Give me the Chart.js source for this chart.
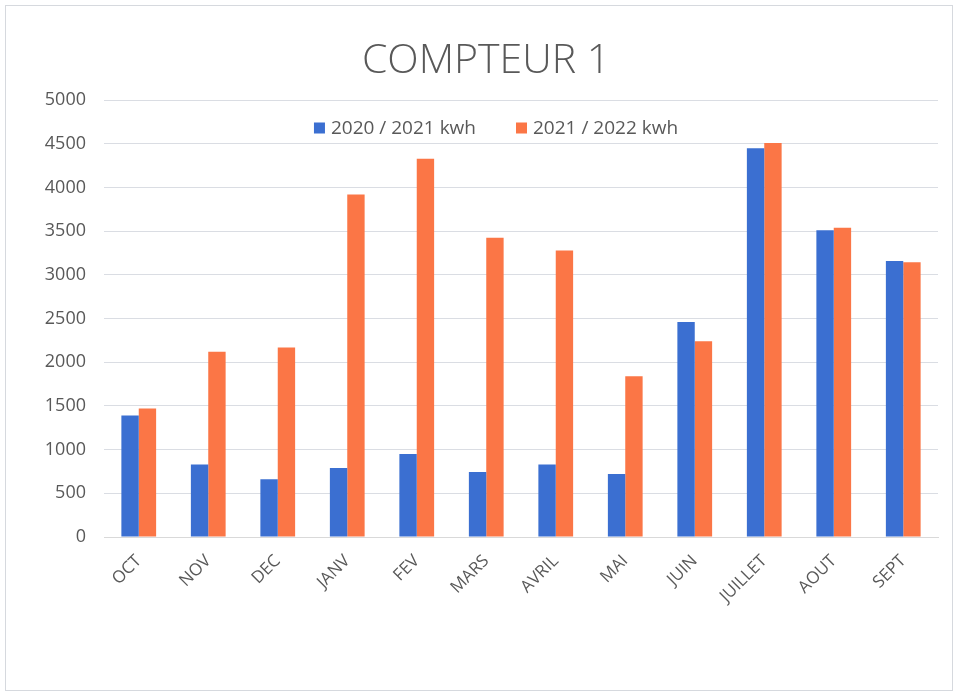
<!DOCTYPE html>
<html>
<head>
<meta charset="utf-8">
<title>COMPTEUR 1</title>
<script src="https://cdn.jsdelivr.net/npm/chart.js@4.4.0/dist/chart.umd.min.js"></script>
<style>
    html, body { margin: 0; padding: 0; background: #ffffff; }
    .chart-frame {
        position: absolute;
        left: 5px; top: 5px;
        width: 946px; height: 684px;
        border: 1px solid #d6d9de;
    }
    .chart-frame canvas { display: block; }
</style>
</head>
<body>
<div class="chart-frame">
    <canvas id="compteurChart" width="946" height="684"></canvas>
</div>
<script>
// Months (Oct -> Sept)
const months = ['OCT', 'NOV', 'DEC', 'JANV', 'FEV', 'MARS', 'AVRIL', 'MAI', 'JUIN', 'JUILLET', 'AOUT', 'SEPT'];

// Consumption in kWh
const season2020 = [1390, 830, 660, 790, 950, 745, 830, 720, 2460, 4450, 3510, 3160];
const season2021 = [1470, 2120, 2170, 3920, 4330, 3425, 3280, 1840, 2240, 4510, 3540, 3145];

const seriesLabels = ['2020 / 2021 kwh', '2021 / 2022 kwh'];
const seriesColors = ['#3b6fd1', '#fb7646'];
const yMax = 5000;
const yStep = 500;

const textColor = '#595959';
const fontFamily = '"Open Sans", "Liberation Sans", sans-serif';

/**
 * Legend drawn inside the plot, just under the top gridline
 */
const insideLegend = {
    id: 'insideLegend',
    afterDatasetsDraw(chart) {
        const ctx = chart.ctx;
        const box = 11;
        const gap = 6;
        const spacing = 40;
        const y = 122;

        ctx.save();
        ctx.font = `19px ${fontFamily}`;
        ctx.textBaseline = 'middle';
        ctx.textAlign = 'left';

        const items = chart.data.datasets.map(ds => ({
            text: ds.label,
            color: ds.backgroundColor,
            width: box + gap + ctx.measureText(ds.label).width
        }));
        const total = items.reduce((sum, it) => sum + it.width, 0) + spacing * (items.length - 1);
        let x = chart.width / 2 + 17 - total / 2;

        items.forEach(it => {
            ctx.fillStyle = it.color;
            ctx.fillRect(x, y - box / 2, box, box);
            ctx.fillStyle = textColor;
            ctx.fillText(it.text, x + box + gap, y + 1);
            x += it.width + spacing;
        });
        ctx.restore();
    }
};

const canvas = document.getElementById('compteurChart');

new Chart(canvas, {
    type: 'bar',
    data: {
        labels: months,
        datasets: [
            {
                label: seriesLabels[0],
                data: season2020,
                backgroundColor: seriesColors[0],
                categoryPercentage: 0.5,
                barPercentage: 1.0
            },
            {
                label: seriesLabels[1],
                data: season2021,
                backgroundColor: seriesColors[1],
                categoryPercentage: 0.5,
                barPercentage: 1.0
            }
        ]
    },
    options: {
        responsive: false,
        animation: false,
        layout: {
            padding: { left: 28, right: 14, top: 31, bottom: 53 }
        },
        plugins: {
            title: {
                display: true,
                text: 'COMPTEUR 1',
                color: textColor,
                font: { family: fontFamily, size: 41, weight: '300', lineHeight: 1.2 },
                padding: { top: 0, bottom: 14 }
            },
            legend: { display: false },
            tooltip: { enabled: false }
        },
        scales: {
            x: {
                grid: { display: false },
                border: { color: '#d9d9d9' },
                ticks: {
                    color: textColor,
                    font: { family: fontFamily, size: 17 },
                    maxRotation: 45,
                    minRotation: 45,
                    padding: 6
                },
                afterFit(scale) { scale.height = 100; }
            },
            y: {
                min: 0,
                max: yMax,
                grid: { color: '#dadde3', drawTicks: false },
                border: { display: false },
                ticks: {
                    stepSize: yStep,
                    color: textColor,
                    font: { family: fontFamily, size: 18 },
                    padding: 18,
                    callback: value => String(value)
                },
                afterFit(scale) { scale.width = 70; }
            }
        }
    },
    plugins: [insideLegend]
});
</script>
</body>
</html>
